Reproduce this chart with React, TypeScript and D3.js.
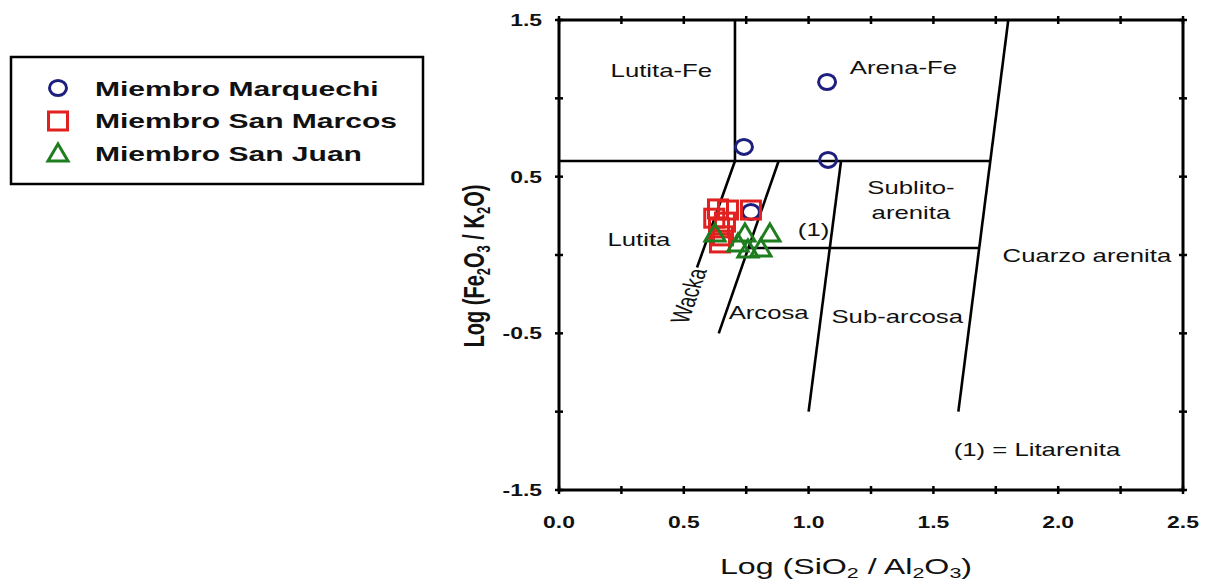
import React from "react";
import * as d3 from "d3";

const marquechi: [number, number][] = [
  [1.074, 1.104],
  [0.741, 0.69],
  [1.078, 0.607],
  [0.769, 0.275],
];
const sanMarcos: [number, number][] = [
  [0.637, 0.294],
  [0.677, 0.287],
  [0.769, 0.287],
  [0.641, 0.173],
  [0.645, 0.077],
  [0.657, 0.122],
  [0.622, 0.235],
  [0.665, 0.21],
];
const sanJuan: [number, number][] = [
  [0.625, 0.141],
  [0.745, 0.141],
  [0.845, 0.141],
  [0.757, 0.039],
  [0.809, 0.045],
  [0.717, 0.077],
];
const boundaries: [number, number][][] = [
  [[0.705, 1.5], [0.705, 0.6]],
  [[0, 0.6], [1.728, 0.6]],
  [[1.8, 1.5], [1.6, -1.0]],
  [[1.13, 0.6], [1.0, -1.0]],
  [[0.759, 0.045], [1.684, 0.045]],
  [[0.88, 0.6], [0.64, -0.5]],
  [[0.705, 0.6], [0.553, -0.08]],
];
const xTicks = [0, 0.25, 0.5, 0.75, 1, 1.25, 1.5, 1.75, 2, 2.25, 2.5];
const xLabels = ["0.0", "0.5", "1.0", "1.5", "2.0", "2.5"];
const xLabelVals = [0, 0.5, 1, 1.5, 2, 2.5];
const yTicks = [1.5, 1, 0.5, 0, -0.5, -1, -1.5];
const yLabels = ["1.5", "0.5", "-0.5", "-1.5"];
const yLabelVals = [1.5, 0.5, -0.5, -1.5];
const regions = [
  { t: "Lutita-Fe", x: 0.41, y: 1.18 },
  { t: "Arena-Fe", x: 1.38, y: 1.2 },
  { t: "Sublito-", x: 1.41, y: 0.43 },
  { t: "arenita", x: 1.41, y: 0.27 },
  { t: "Lutita", x: 0.32, y: 0.1 },
  { t: "(1)", x: 1.02, y: 0.16 },
  { t: "Cuarzo arenita", x: 2.115, y: 0.0 },
  { t: "Arcosa", x: 0.84, y: -0.37 },
  { t: "Sub-arcosa", x: 1.355, y: -0.39 },
  { t: "(1) = Litarenita", x: 1.915, y: -1.24 },
];
const legendItems = ["Miembro Marquechi", "Miembro San Marcos", "Miembro San Juan"];

const NAVY = "#1c1f7e";
const RED = "#e0211f";
const GREEN = "#1e7d1e";
const FONT = "'Liberation Sans', Arial, sans-serif";
const SX = 1.43;

function Circle({ cx, cy }: { cx: number; cy: number }) {
  return <ellipse cx={cx} cy={cy} rx={8.5} ry={7.5} fill="none" stroke={NAVY} strokeWidth={3} />;
}
function Square({ cx, cy }: { cx: number; cy: number }) {
  const w = 19, h = 18;
  return <rect x={cx - w / 2} y={cy - h / 2} width={w} height={h} fill="none" stroke={RED} strokeWidth={3} />;
}
function Tri({ cx, cy }: { cx: number; cy: number }) {
  const h = 16, w = 20;
  const p = `M${cx},${cy - h / 2 - 1}L${cx + w / 2},${cy + h / 2}L${cx - w / 2},${cy + h / 2}Z`;
  return <path d={p} fill="none" stroke={GREEN} strokeWidth={3} strokeLinejoin="miter" />;
}

function SText({ x, y, children, anchor = "middle", size, bold = false, rotate = 0 }: any) {
  return (
    <g transform={`translate(${x},${y}) scale(${SX},1) rotate(${rotate})`}>
      <text x={0} y={0} textAnchor={anchor} fontSize={size} fontWeight={bold ? "bold" : "normal"} fill="#111">
        {children}
      </text>
    </g>
  );
}

export default function App() {
  const W = 1207, H = 581;
  const x = d3.scaleLinear().domain([0, 2.5]).range([559, 1183]);
  const y = d3.scaleLinear().domain([-1.5, 1.5]).range([490, 20]);
  const line = d3.line<[number, number]>().x((d) => x(d[0])).y((d) => y(d[1]));
  return (
    <svg width={W} height={H} style={{ position: "absolute", left: 0, top: 0, background: "#fff" }} fontFamily={FONT}>
      <rect width={W} height={H} fill="#fff" />
      {boundaries.map((b, i) => (
        <path key={i} d={line(b) || ""} stroke="#000" strokeWidth={2.6} fill="none" />
      ))}
      <rect x={x(0)} y={y(1.5)} width={x(2.5) - x(0)} height={y(-1.5) - y(1.5)} fill="none" stroke="#000" strokeWidth={3} />
      {xTicks.map((t) => (
        <g key={"xt" + t}>
          <line x1={x(t)} x2={x(t)} y1={y(-1.5) - 4} y2={y(-1.5) + 4} stroke="#000" strokeWidth={2.5} />
          <line x1={x(t)} x2={x(t)} y1={y(1.5) - 4} y2={y(1.5) + 4} stroke="#000" strokeWidth={2.5} />
        </g>
      ))}
      {yTicks.map((t) => (
        <g key={"yt" + t}>
          <line x1={x(0) - 4} x2={x(0) + 4} y1={y(t)} y2={y(t)} stroke="#000" strokeWidth={2.5} />
          <line x1={x(2.5) - 4} x2={x(2.5) + 4} y1={y(t)} y2={y(t)} stroke="#000" strokeWidth={2.5} />
        </g>
      ))}
      {xLabelVals.map((v, i) => (
        <SText key={"xl" + i} x={x(v)} y={528} size={16} bold>
          {xLabels[i]}
        </SText>
      ))}
      {yLabelVals.map((v, i) => (
        <SText key={"yl" + i} x={542} y={y(v) + 6} size={16} bold anchor="end">
          {yLabels[i]}
        </SText>
      ))}
      <SText x={846} y={574} size={22.5}>
        Log (SiO<tspan fontSize={15} dy={4}>2</tspan><tspan dy={-4}> / Al</tspan>
        <tspan fontSize={15} dy={4}>2</tspan><tspan dy={-4}>O</tspan><tspan fontSize={15} dy={4}>3</tspan><tspan dy={-4}>)</tspan>
      </SText>
      <g transform={`translate(474,266) scale(${SX},1) rotate(-90)`}>
        <text x={0} y={7} textAnchor="middle" fontSize={20} fontWeight="bold" fill="#111">
          Log (Fe<tspan fontSize={13} dy={4}>2</tspan><tspan dy={-4}>O</tspan><tspan fontSize={13} dy={4}>3</tspan>
          <tspan dy={-4}> / K</tspan><tspan fontSize={13} dy={4}>2</tspan><tspan dy={-4}>O)</tspan>
        </text>
      </g>
      {regions.map((r, i) => (
        <SText key={"r" + i} x={x(r.x)} y={y(r.y) + 6.5} size={18}>
          {r.t}
        </SText>
      ))}
      <g transform={`translate(689,296) scale(${SX},1) rotate(-76)`}>
        <text x={0} y={6} textAnchor="middle" fontSize={18.5} fill="#111">Wacka</text>
      </g>
      {marquechi.map((d, i) => <Circle key={"c" + i} cx={x(d[0])} cy={y(d[1])} />)}
      {sanMarcos.map((d, i) => <Square key={"s" + i} cx={x(d[0])} cy={y(d[1])} />)}
      {sanJuan.map((d, i) => <Tri key={"t" + i} cx={x(d[0])} cy={y(d[1])} />)}
      <rect x={11} y={57} width={412} height={127} fill="#fff" stroke="#000" strokeWidth={2.5} />
      <Circle cx={58} cy={88} />
      <Square cx={58} cy={121} />
      <Tri cx={58} cy={153} />
      {legendItems.map((t, i) => (
        <SText key={"lg" + i} x={95} y={88 + i * 32.5 + 7.5} size={21} bold anchor="start">
          {t}
        </SText>
      ))}
    </svg>
  );
}
